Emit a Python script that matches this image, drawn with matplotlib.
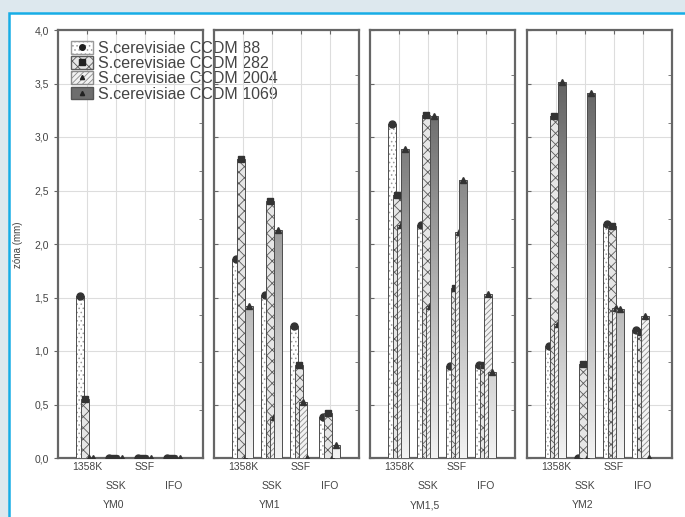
import numpy as np
import matplotlib
matplotlib.use('Agg')
import matplotlib.pyplot as plt
from matplotlib.patches import Rectangle, Patch
from matplotlib.lines import Line2D
from matplotlib.legend_handler import HandlerTuple
from matplotlib.ticker import MultipleLocator, FuncFormatter

# Данные: зона (мм) по панелям YM0, YM1, YM1,5, YM2
groups = ['1358K', 'SSK', 'SSF', 'IFO']
panels = ['YM0', 'YM1', 'YM1,5', 'YM2']
strains = ['S.cerevisiae CCDM 88', 'S.cerevisiae CCDM 282',
           'S.cerevisiae CCDM 2004', 'S.cerevisiae CCDM 1069']

ccdm88 = [[1.51, 0.00, 0.00, 0.00],
          [1.86, 1.52, 1.23, 0.38],
          [3.12, 2.18, 0.86, 0.87],
          [1.05, 0.00, 2.19, 1.20]]
ccdm282 = [[0.55, 0.00, 0.00, 0.00],
           [2.79, 2.40, 0.87, 0.42],
           [2.46, 3.21, 1.59, 0.87],
           [3.20, 0.88, 2.17, 1.18]]
ccdm2004 = [[0.00, 0.00, 0.00, 0.00],
            [0.00, 0.38, 0.52, 0.00],
            [2.18, 1.42, 2.11, 1.53],
            [1.25, 0.00, 1.40, 1.33]]
ccdm1069 = [[0.00, 0.00, 0.00, 0.00],
            [1.42, 2.13, 0.00, 0.12],
            [2.89, 3.20, 2.60, 0.80],
            [3.51, 3.41, 1.39, 0.00]]
series = [ccdm88, ccdm282, ccdm2004, ccdm1069]

plt.rcParams['font.family'] = ['Liberation Sans', 'DejaVu Sans']
plt.rcParams['hatch.linewidth'] = 0.6

# стили серий: заливка, штриховка, цвет штриховки, маркер на вершине
styles = [
    dict(fc='white', hatch='....', hc='#9a9a9a', marker='o', ms=5),
    dict(fc='#e6e6e6', hatch='xxx', hc='#5a5a5a', marker='s', ms=5),
    dict(fc='#f2f2f2', hatch='//////', hc='#8a8a8a', marker='^', ms=4),
    dict(fc=None, hatch=None, hc='#555555', marker='^', ms=4),
]

W, H = 685, 517
fig = plt.figure(figsize=(W / 100, H / 100), dpi=100)
fig.patch.set_facecolor('#dde8ee')
fig.add_artist(Rectangle((9 / W, -0.1), 1.2, 1.1 - 13 / H, transform=fig.transFigure,
                         facecolor='white', edgecolor='#17ade6', lw=1.8, zorder=0))

x = np.arange(1, len(groups) + 1)
width = 0.27
offsets = [-0.24, -0.08, 0.07, 0.22]
yy = np.linspace(0, 4, 300).reshape(-1, 1)
grad = 0.95 - 0.16 * yy  # градиент заливки серых столбцов

lefts = [58, 214, 370, 527]
for i, panel in enumerate(panels):
    ax = fig.add_axes([lefts[i] / W, 1 - 458 / H, 145 / W, 428 / H])
    ax.set_facecolor('none')

    for k in range(4):
        st = styles[k]
        vals = [series[k][i][g] for g in range(len(groups))]
        z = 3 + k
        if k < 3:
            ax.bar(x + offsets[k], vals, width, facecolor=st['fc'], hatch=st['hatch'],
                   edgecolor=st['hc'], lw=0, zorder=z)
            ax.bar(x + offsets[k], vals, width, fill=False, edgecolor='#4d4d4d',
                   lw=0.7, zorder=z + 0.01)
        else:
            rects = ax.bar(x + offsets[k], vals, width, fill=False, edgecolor='#4d4d4d',
                           lw=0.7, zorder=z + 0.01)
            for r in rects:
                im = ax.imshow(grad, extent=[0, 5, 0, 4], origin='lower', aspect='auto',
                               cmap='gray', vmin=0, vmax=1, zorder=z)
                im.set_clip_path(r)
        ax.plot(x + offsets[k], vals, ls='none', marker=st['marker'], ms=st['ms'],
                color='#333333', zorder=z + 0.02)

    ax.set_xlim(0, 5)
    ax.set_ylim(0, 4)
    ax.set_xticks(x)
    ax.set_xticklabels([g if j % 2 == 0 else '\n' + g for j, g in enumerate(groups)],
                       fontsize=7.5, color='#444444')
    for t in ax.get_xticklabels():
        t.set_linespacing(2.1)
    ax.tick_params(axis='x', bottom=False, top=True, direction='in', length=3,
                   color='#666666', pad=3)
    ax.yaxis.set_major_locator(MultipleLocator(0.5))
    ax.yaxis.set_minor_locator(MultipleLocator(0.447))
    ax.tick_params(axis='y', which='minor', left=False, right=True, direction='in',
                   length=3, color='#666666')
    if i == 0:
        ax.yaxis.set_major_formatter(FuncFormatter(lambda v, p: f'{v:.1f}'.replace('.', ',')))
        ax.tick_params(axis='y', which='major', direction='out', length=3,
                       labelsize=7.5, labelcolor='#444444', color='#666666')
    else:
        ax.tick_params(axis='y', which='major', direction='in', length=3,
                       labelleft=False, color='#666666')
    ax.grid(True, color='#dddddd', lw=0.8, zorder=0)
    ax.set_axisbelow(True)
    for s in ax.spines.values():
        s.set_color('#666666')
        s.set_linewidth(1.6)
    ax.text(0.38, -0.11, panel, transform=ax.transAxes, ha='center', va='center',
            fontsize=7.5, color='#444444')

    if i == 0:
        handles = []
        for k in range(4):
            st = styles[k]
            if k < 3:
                p = Patch(facecolor=st['fc'], hatch=st['hatch'], edgecolor=st['hc'])
            else:
                p = Patch(facecolor='#6e6e6e', edgecolor='#555555')
            m = Line2D([], [], ls='none', marker=st['marker'], ms=st['ms'] - 1,
                       color='#222222')
            handles.append((p, m))
        leg = ax.legend(handles, strains, handler_map={tuple: HandlerTuple(ndivide=1)},
                        loc='upper left', bbox_to_anchor=(0.09, 0.975), frameon=False,
                        fontsize=11.5, handlelength=1.4, handleheight=0.85,
                        labelspacing=0.02, handletextpad=0.3, borderaxespad=0,
                        borderpad=0)
        for t in leg.get_texts():
            t.set_color('#444444')
        leg.set_zorder(20)

fig.text(18 / W, 1 - 245 / H, 'zóna (mm)', rotation=90, fontsize=7, ha='center',
         va='center', color='#444444')

fig.savefig('out.png', dpi=100, facecolor=fig.get_facecolor())
